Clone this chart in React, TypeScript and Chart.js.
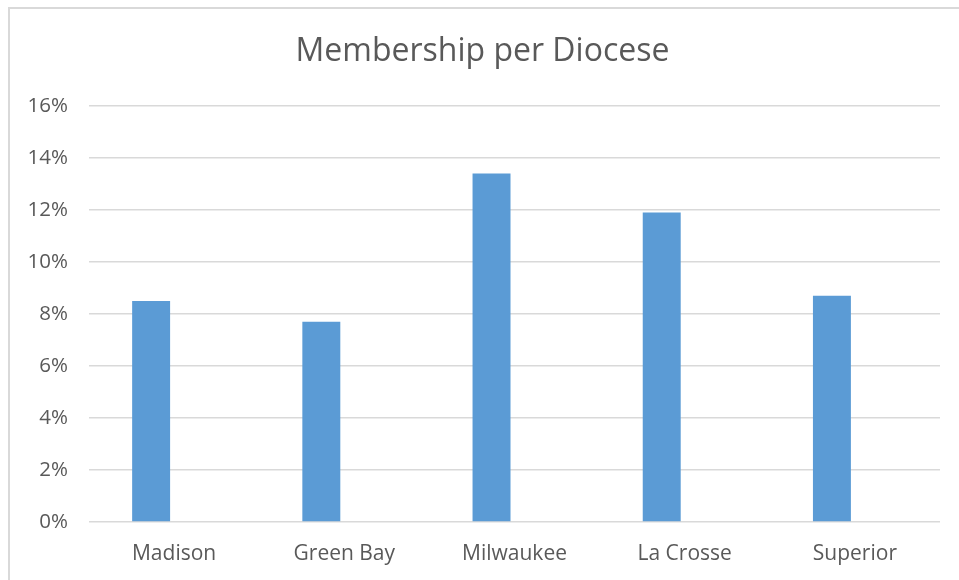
import React, { useEffect, useRef } from "react";
import { Chart, registerables } from "chart.js";

Chart.register(...registerables);

const categories = ["Madison", "Green Bay", "Milwaukee", "La Crosse", "Superior"];
const membership = [8.5, 7.7, 13.4, 11.9, 8.7];
const emptySeries: number[] = [];
const yTicks = [0, 2, 4, 6, 8, 10, 12, 14, 16];

const TEXT = "#595959";
const GRID = "#d9d9d9";
const FONT = "'Open Sans', 'Noto Sans', sans-serif";

export default function App() {
  const ref = useRef<HTMLCanvasElement | null>(null);

  useEffect(() => {
    document.body.style.margin = "0";
    document.body.style.overflow = "hidden";
    if (!ref.current) return;
    const chart = new Chart(ref.current, {
      type: "bar",
      data: {
        labels: categories,
        datasets: [
          {
            label: "Membership",
            data: membership,
            backgroundColor: "#5B9BD5",
            borderWidth: 0,
            categoryPercentage: 0.54,
            barPercentage: 0.826,
          },
          {
            label: "",
            data: emptySeries,
            backgroundColor: "#ED7D31",
            borderWidth: 0,
            categoryPercentage: 0.54,
            barPercentage: 0.826,
          },
        ],
      },
      options: {
        animation: false,
        responsive: false,
        maintainAspectRatio: false,
        layout: { padding: { left: 25, right: 19, top: 0, bottom: 8 } },
        plugins: {
          legend: { display: false },
          tooltip: { enabled: false },
          title: {
            display: true,
            text: "Membership per Diocese",
            color: TEXT,
            font: { family: FONT, size: 32, weight: "normal", lineHeight: 1.2 },
            padding: { top: 32.8, bottom: 34.8 },
          },
        },
        scales: {
          x: {
            grid: { display: false, drawTicks: false },
            border: { display: false },
            ticks: {
              color: TEXT,
              font: { family: FONT, size: 21 },
              padding: 19,
            },
            afterFit: (scale: any) => {
              scale.height = 50;
            },
          },
          y: {
            min: 0,
            max: 16,
            afterBuildTicks: (scale: any) => {
              scale.ticks = yTicks.map((v) => ({ value: v }));
            },
            grid: { color: GRID, lineWidth: 1.5, drawTicks: false },
            border: { display: false },
            ticks: {
              color: TEXT,
              font: { family: FONT, size: 20.5 },
              padding: 21,
              callback: (v: any) => v + "%",
            },
            afterFit: (scale: any) => {
              scale.width = 64;
            },
          },
        },
      },
    });
    return () => chart.destroy();
  }, []);

  return (
    <div
      style={{
        position: "fixed",
        left: 0,
        top: 0,
        width: 959,
        height: 580,
        overflow: "hidden",
        background: "#fff",
      }}
    >
      <div
        style={{
          position: "absolute",
          left: 8,
          top: 7,
          width: 980,
          height: 600,
          border: "2px solid #d9d9d9",
          boxSizing: "border-box",
        }}
      />
      <canvas
        ref={ref}
        width={959}
        height={580}
        style={{ position: "absolute", left: 0, top: 0, width: 959, height: 580 }}
      />
    </div>
  );
}
